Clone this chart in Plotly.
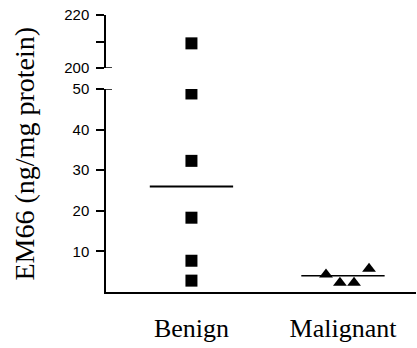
import plotly.graph_objects as go

# ---- data ----
categories = ["Benign", "Malignant"]
benign_values = [209.3, 48.9, 32.3, 18.3, 7.7, 2.8]
malignant_values = [4.3, 2.3, 2.3, 5.7]
malignant_offsets = [-0.112, -0.02, 0.073, 0.172]
medians = [26, 4]
lower_ticks = [10, 20, 30, 40, 50]
upper_ticks = [200, 210, 220]
upper_ticklabels = ["200", "", "220"]
break_low, break_high = 50, 200

cat_pos = {c: i for i, c in enumerate(categories)}

fig = go.Figure()

# benign squares, split over the broken axis
b_low = [v for v in benign_values if v <= break_low]
b_high = [v for v in benign_values if v >= break_high]
fig.add_trace(go.Scatter(x=[cat_pos["Benign"]] * len(b_low), y=b_low, mode="markers",
                         marker=dict(symbol="square", size=12, color="black"),
                         yaxis="y", showlegend=False))
fig.add_trace(go.Scatter(x=[cat_pos["Benign"]] * len(b_high), y=b_high, mode="markers",
                         marker=dict(symbol="square", size=12, color="black"),
                         yaxis="y2", showlegend=False))

# malignant triangles
fig.add_trace(go.Scatter(x=[cat_pos["Malignant"] + o for o in malignant_offsets], y=malignant_values,
                         mode="markers",
                         marker=dict(symbol="triangle-up", size=12, color="black"),
                         yaxis="y", showlegend=False))

# median lines
half = 0.275
for c, m, w in zip(categories, medians, [2, 1.5]):
    p = cat_pos[c]
    fig.add_trace(go.Scatter(x=[p - half, p + half], y=[m, m], mode="lines",
                             line=dict(color="black", width=w),
                             yaxis="y", showlegend=False, hoverinfo="skip"))

plot_h = 277
lower_top = (292 - 89) / plot_h
upper_bottom = (292 - 68) / plot_h

tickfont = dict(family="Liberation Sans, Arial", size=15, color="black")

fig.update_layout(
    width=417, height=348,
    margin=dict(l=106, r=1, t=15, b=56, autoexpand=False),
    paper_bgcolor="white", plot_bgcolor="white",
    xaxis=dict(range=[-0.564, 1.482], showline=True, linecolor="black", linewidth=1.5,
               showgrid=False, zeroline=False, tickmode="array", tickvals=[0, 1],
               ticktext=categories, ticks="", ticklabelstandoff=12,
               tickfont=dict(family="Liberation Serif, Times New Roman", size=26, color="black")),
    yaxis=dict(domain=[0, lower_top], range=[0, 50], showline=True, linecolor="black",
               linewidth=1.5, showgrid=False, zeroline=False, tickmode="array",
               tickvals=lower_ticks, ticks="outside", ticklen=8, tickwidth=1.5,
               tickcolor="black", tickfont=tickfont, ticklabelstandoff=4),
    yaxis2=dict(domain=[upper_bottom, 1], range=[200, 220], showline=True, linecolor="black",
                linewidth=1.5, showgrid=False, zeroline=False, tickmode="array",
                tickvals=upper_ticks, ticktext=upper_ticklabels, ticks="outside", ticklen=8,
                tickwidth=1.5, tickcolor="black", tickfont=tickfont, ticklabelstandoff=4,
                anchor="x"),
)

# axis-break stubs to the right of the axis
fig.add_shape(type="line", xref="paper", x0=0, x1=6 / 310, yref="y", y0=break_low, y1=break_low,
              line=dict(color="black", width=1.5))
fig.add_shape(type="line", xref="paper", x0=0, x1=6 / 310, yref="y2", y0=break_high, y1=break_high,
              line=dict(color="black", width=1.5))

fig.add_annotation(text="EM66 (ng/mg protein)", xref="paper", yref="paper",
                   x=(24 - 106) / 310, y=(292 - 153.5) / plot_h, xanchor="center", yanchor="middle",
                   textangle=-90, showarrow=False,
                   font=dict(family="Liberation Serif, Times New Roman", size=28, color="black"))

fig.write_html("out.html", config={"displayModeBar": False},
               post_script="document.body.style.margin='0';")
